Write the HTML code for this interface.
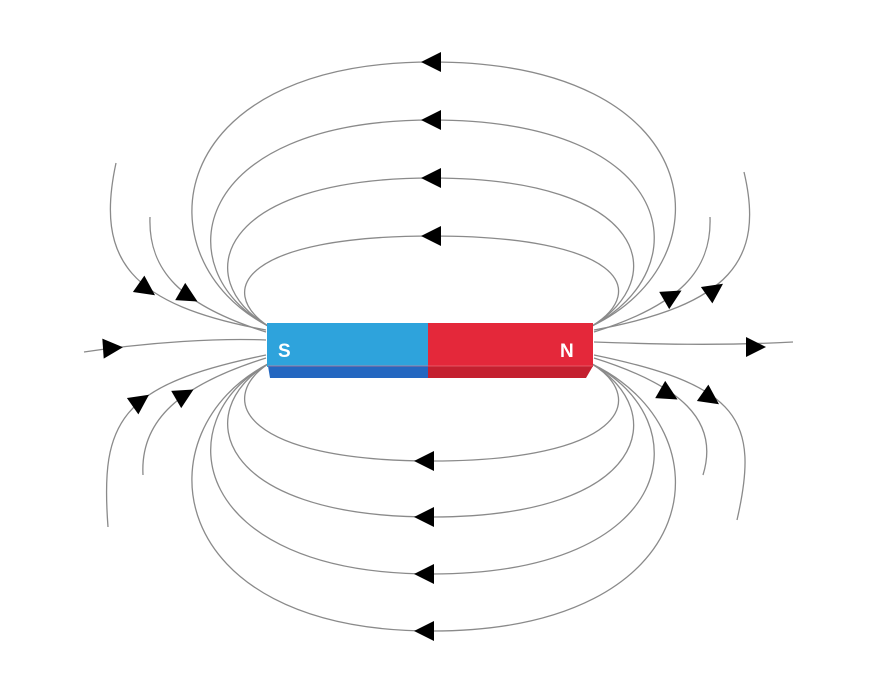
<!DOCTYPE html>
<html><head><style>html,body{margin:0;padding:0;background:#fff;width:880px;height:684px;overflow:hidden}</style></head>
<body>
<svg width="880" height="684" viewBox="0 0 880 684" xmlns="http://www.w3.org/2000/svg">
<defs><polygon id="a" points="11,0 -9,-10 -9,10" fill="#000"/></defs>
<g fill="none" stroke="#8a8a8a" stroke-width="1.3">
<path d="M268,326 C140,260 160,62 432,62 C710,62 730,260 592,326"/>
<path d="M268,326 C165,270 190,120 432,120 C680,120 700,270 592,326"/>
<path d="M268,326 C190,280 215,178 432,178 C650,178 670,280 592,326"/>
<path d="M268,326 C215,290 245,236 432,236 C620,236 650,290 592,326"/>
<path d="M268,364 C215,400 245,461 432,461 C620,461 650,400 592,364"/>
<path d="M268,364 C190,410 215,517 432,517 C650,517 670,410 592,364"/>
<path d="M268,364 C165,420 190,574 432,574 C680,574 700,420 592,364"/>
<path d="M268,364 C140,430 160,631 432,631 C710,631 730,430 592,364"/>
<path d="M116,163 C95,260 130,305 266,330"/>
<path d="M150,217 C148,270 180,305 266,332"/>
<path d="M84,352 C150,342 220,338 266,340"/>
<path d="M108,527 C100,420 120,385 266,355"/>
<path d="M143,475 C140,420 180,385 266,358"/>
<path d="M744,172 C765,260 730,305 594,330"/>
<path d="M710,217 C712,270 680,305 594,332"/>
<path d="M793,342 C720,346 650,344 594,342"/>
<path d="M737,520 C760,420 740,385 594,355"/>
<path d="M703,475 C720,420 680,385 594,358"/>
</g>
<use href="#a" transform="translate(432,62) rotate(180)"/>
<use href="#a" transform="translate(432,120) rotate(180)"/>
<use href="#a" transform="translate(432,178) rotate(180)"/>
<use href="#a" transform="translate(432,236) rotate(180)"/>
<use href="#a" transform="translate(425,461) rotate(180)"/>
<use href="#a" transform="translate(425,517) rotate(180)"/>
<use href="#a" transform="translate(425,574) rotate(180)"/>
<use href="#a" transform="translate(425,631) rotate(180)"/>
<use href="#a" transform="translate(146,289) rotate(35)"/>
<use href="#a" transform="translate(188,296) rotate(30)"/>
<use href="#a" transform="translate(112,348) rotate(-4)"/>
<use href="#a" transform="translate(140,401) rotate(-35)"/>
<use href="#a" transform="translate(184,395) rotate(-30)"/>
<use href="#a" transform="translate(672,296) rotate(-30)"/>
<use href="#a" transform="translate(714,290) rotate(-35)"/>
<use href="#a" transform="translate(755,347) rotate(0)"/>
<use href="#a" transform="translate(668,394) rotate(30)"/>
<use href="#a" transform="translate(710,398) rotate(35)"/>
<rect x="267" y="323" width="162" height="44" fill="#2ea3dc"/>
<rect x="428" y="323" width="165" height="44" fill="#e4283a"/>
<polygon points="268,366 429,366 429,378 270,378" fill="#2467c0"/>
<polygon points="428,366 593,366 586,378 428,378" fill="#c4202f"/>
<line x1="268" y1="366" x2="593" y2="366" stroke="#f07a85" stroke-width="1" opacity="0.6"/>
<text x="278" y="357" font-family="Liberation Sans, sans-serif" font-weight="bold" font-size="19" fill="#fff">S</text>
<text x="560" y="357" font-family="Liberation Sans, sans-serif" font-weight="bold" font-size="19" fill="#fff">N</text>
</svg>
</body></html>
